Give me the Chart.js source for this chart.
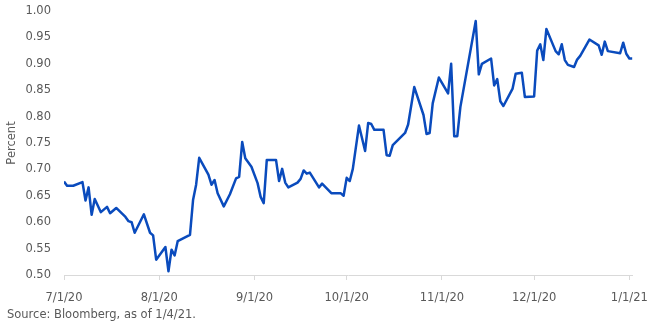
<!DOCTYPE html>
<html>
  <head>
    <title>Yield Line Chart</title>
    <script src="https://cdn.jsdelivr.net/npm/chart.js@4.4.1/dist/chart.umd.min.js"></script>
    <style>
      body {
        margin: 0;
        background: #fff;
      }
      #container {
        position: relative;
        width: 659px;
        height: 330px;
      }
      #source {
        position: absolute;
        left: 7px;
        top: 307px;
        font: 11.5px 'DejaVu Sans', sans-serif;
        line-height: 14px;
        color: #595959;
        white-space: nowrap;
      }
    </style>
  </head>

  <body>
    <div id="container">
      <canvas id="canvas" width="659" height="330"></canvas>
      <div id="source">Source: Bloomberg, as of 1/4/21.</div>
    </div>
    <script>
      // values
      var dates = [
        '7/1/20', '7/2/20', '7/4/20', '7/7/20', '7/8/20', '7/9/20', '7/10/20', '7/11/20', '7/13/20', '7/15/20',
        '7/16/20', '7/18/20', '7/21/20', '7/22/20', '7/23/20', '7/24/20', '7/27/20', '7/29/20', '7/30/20', '7/31/20',
        '8/3/20', '8/4/20', '8/5/20', '8/6/20', '8/7/20', '8/11/20', '8/12/20', '8/13/20', '8/14/20', '8/17/20',
        '8/18/20', '8/19/20', '8/20/20', '8/22/20', '8/24/20', '8/26/20', '8/27/20', '8/28/20', '8/29/20', '8/31/20',
        '9/2/20', '9/3/20', '9/4/20', '9/5/20', '9/8/20', '9/9/20', '9/10/20', '9/11/20', '9/12/20', '9/15/20',
        '9/16/20', '9/17/20', '9/18/20', '9/19/20', '9/22/20', '9/23/20', '9/26/20', '9/29/20', '9/30/20', '10/1/20',
        '10/2/20', '10/3/20', '10/5/20', '10/7/20', '10/8/20', '10/9/20', '10/10/20', '10/13/20', '10/14/20', '10/15/20',
        '10/16/20', '10/20/20', '10/21/20', '10/23/20', '10/26/20', '10/27/20', '10/28/20', '10/29/20', '10/31/20', '11/3/20',
        '11/4/20', '11/5/20', '11/6/20', '11/7/20', '11/12/20', '11/13/20', '11/14/20', '11/17/20', '11/18/20', '11/19/20',
        '11/20/20', '11/21/20', '11/24/20', '11/25/20', '11/27/20', '11/28/20', '12/1/20', '12/2/20', '12/3/20', '12/4/20',
        '12/5/20', '12/8/20', '12/9/20', '12/10/20', '12/11/20', '12/12/20', '12/14/20', '12/15/20', '12/16/20', '12/19/20',
        '12/22/20', '12/23/20', '12/24/20', '12/25/20', '12/29/20', '12/30/20', '12/31/20', '1/1/21', '1/2/21'
      ];
      var yields = [
        0.677, 0.669, 0.669, 0.676, 0.641, 0.666, 0.614, 0.644, 0.619, 0.629,
        0.617, 0.627, 0.610, 0.602, 0.600, 0.580, 0.615, 0.580, 0.575, 0.529,
        0.553, 0.507, 0.548, 0.537, 0.564, 0.576, 0.642, 0.671, 0.722, 0.690,
        0.671, 0.680, 0.655, 0.630, 0.653, 0.683, 0.686, 0.752, 0.721, 0.705,
        0.674, 0.648, 0.636, 0.718, 0.718, 0.678, 0.701, 0.675, 0.666, 0.675,
        0.682, 0.698, 0.692, 0.694, 0.666, 0.673, 0.655, 0.655, 0.650, 0.684,
        0.678, 0.701, 0.783, 0.735, 0.788, 0.786, 0.775, 0.775, 0.727, 0.726,
        0.746, 0.769, 0.785, 0.856, 0.803, 0.767, 0.769, 0.825, 0.874, 0.844,
        0.900, 0.763, 0.763, 0.818, 0.981, 0.880, 0.900, 0.910, 0.859, 0.871,
        0.829, 0.820, 0.853, 0.881, 0.883, 0.837, 0.838, 0.925, 0.937, 0.907,
        0.966, 0.924, 0.918, 0.937, 0.907, 0.898, 0.894, 0.908, 0.915, 0.946,
        0.935, 0.917, 0.942, 0.924, 0.920, 0.940, 0.919, 0.910, 0.910
      ];
      var tickLabels = ['7/1/20', '8/1/20', '9/1/20', '10/1/20', '11/1/20', '12/1/20', '1/1/21'];

      // days since 7/1/20
      function dayOf(s) {
        var p = s.split('/');
        var t = Date.UTC(2000 + Number(p[2]), Number(p[0]) - 1, Number(p[1]));
        return Math.round((t - Date.UTC(2020, 6, 1)) / 86400000);
      }

      var points = dates.map(function (d, i) {
        return { x: dayOf(d), y: yields[i] };
      });
      var tickDays = tickLabels.map(dayOf);

      var grey = '#595959';
      var font = { family: "'DejaVu Sans', sans-serif", size: 11.5 };

      var ctx = document.getElementById('canvas').getContext('2d');
      window.myLine = new Chart(ctx, {
        type: 'line',
        data: {
          datasets: [
            {
              data: points,
              borderColor: '#0a4bbd',
              borderWidth: 2.5,
              pointRadius: 0,
              tension: 0,
              borderJoinStyle: 'round',
            },
          ],
        },
        options: {
          responsive: false,
          animation: false,
          layout: { padding: { top: 11, right: 24, bottom: 27, left: 0 } },
          plugins: {
            legend: { display: false },
            tooltip: { enabled: false },
          },
          scales: {
            x: {
              type: 'linear',
              min: 0,
              max: 185,
              afterFit: function (scale) {
                scale.height = 28;
              },
              afterBuildTicks: function (scale) {
                scale.ticks = tickDays.map(function (v) {
                  return { value: v };
                });
              },
              border: { color: '#d9d9d9', width: 1 },
              grid: { drawOnChartArea: false, tickLength: 5, color: '#d9d9d9' },
              ticks: {
                autoSkip: false,
                maxRotation: 0,
                padding: 11,
                color: grey,
                font: font,
                callback: function (v, i) {
                  return tickLabels[i];
                },
              },
            },
            y: {
              min: 0.5,
              max: 1.0,
              afterFit: function (scale) {
                scale.width = 64;
              },
              border: { display: false },
              // hidden tick marks keep labels away from the plot without padding the top
              grid: { display: false, drawTicks: true, tickLength: 13 },
              ticks: {
                stepSize: 0.05,
                padding: 0,
                color: grey,
                font: font,
                callback: function (v) {
                  return v.toFixed(2);
                },
              },
              title: {
                display: true,
                text: 'Percent',
                color: grey,
                font: font,
                padding: { top: 5, bottom: 0 },
              },
            },
          },
        },
      });
    </script>
  </body>
</html>
